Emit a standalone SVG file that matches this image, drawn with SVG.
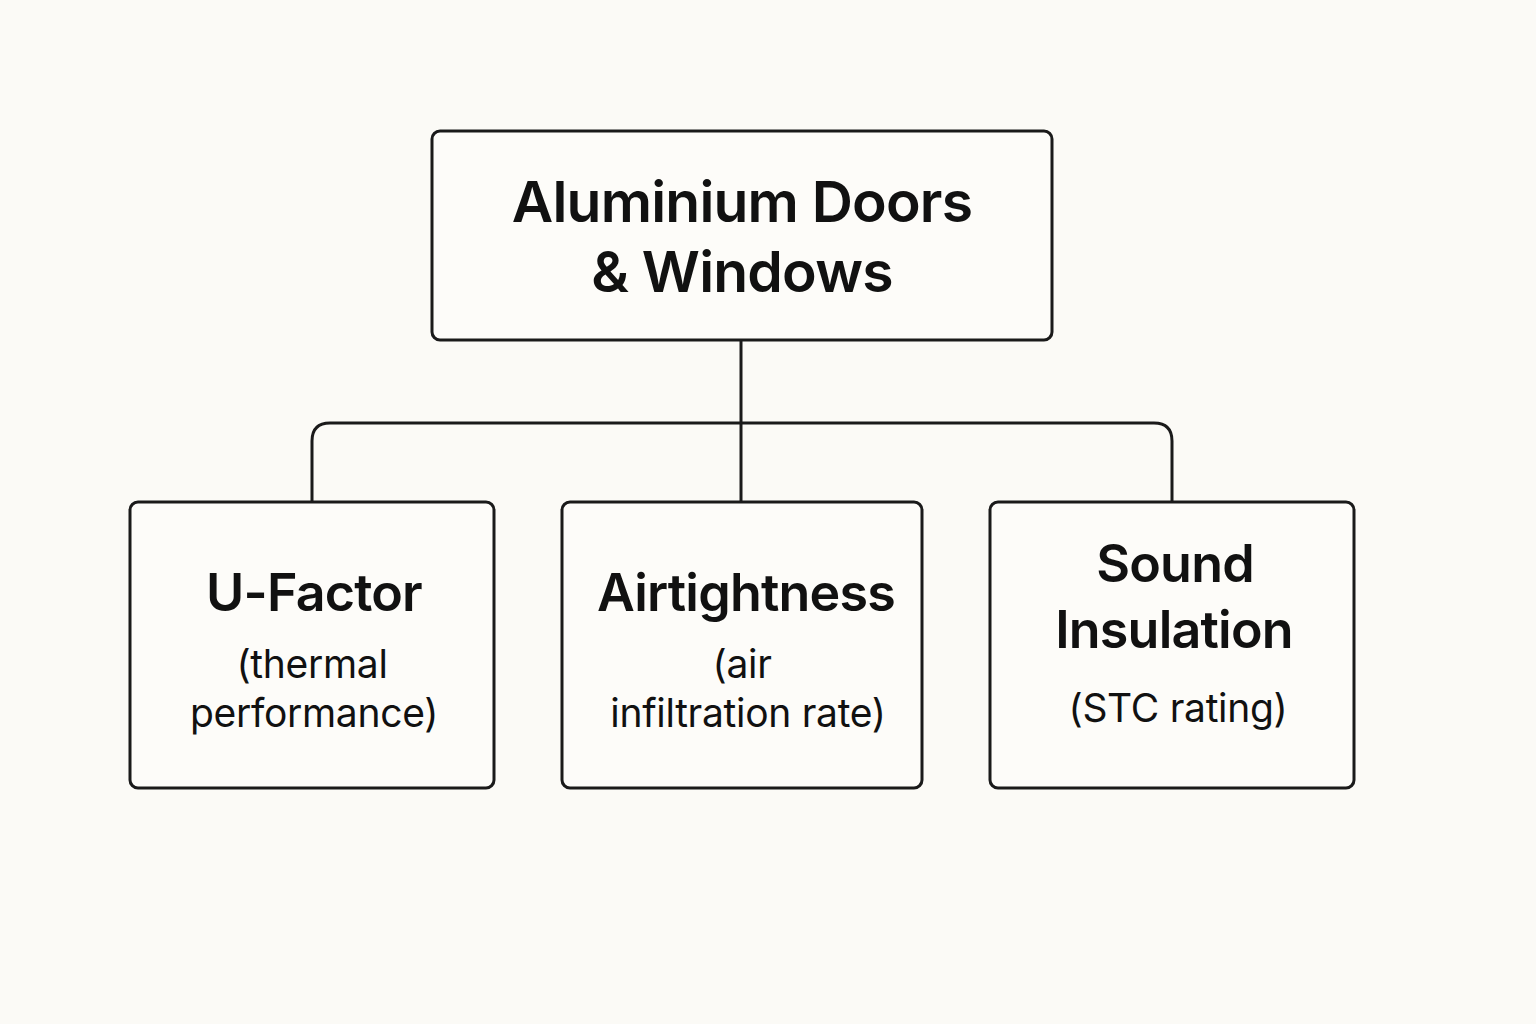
<svg xmlns="http://www.w3.org/2000/svg" width="1536" height="1024" viewBox="0 0 1536 1024">
<style>
.box{fill:#fdfcf9;stroke:#1a1a1a;stroke-width:3}
.t{font-family:Inter,"Liberation Sans",sans-serif;font-weight:600;fill:#111;text-anchor:middle;letter-spacing:-0.8px}
.s{font-family:Inter,"Liberation Sans",sans-serif;font-weight:400;fill:#111;text-anchor:middle;font-size:39px;letter-spacing:-0.3px}
.c{fill:none;stroke:#1a1a1a;stroke-width:3}
</style>
<rect width="1536" height="1024" fill="#fbfaf6"/>
<g id="connectors">
<path class="c" d="M741 340 V502"/>
<path class="c" d="M312 502 V441 Q312 423 330 423 H1154 Q1172 423 1172 441 V502"/>
</g>
<g id="root">
<rect class="box" x="432" y="131" width="620" height="209" rx="8"/>
<text class="t" x="742" y="222" font-size="57">Aluminium Doors</text>
<text class="t" x="742" y="292" font-size="57">&amp; Windows</text>
</g>
<g id="ufactor">
<rect class="box" x="130" y="502" width="364" height="286" rx="8"/>
<text class="t" x="314" y="611" font-size="52">U-Factor</text>
<text class="s" x="312" y="678">(thermal</text>
<text class="s" x="314" y="727">performance)</text>
</g>
<g id="airtightness">
<rect class="box" x="562" y="502" width="360" height="286" rx="8"/>
<text class="t" x="746" y="611" font-size="52">Airtightness</text>
<text class="s" x="742" y="678">(air</text>
<text class="s" x="748" y="727">infiltration rate)</text>
</g>
<g id="sound">
<rect class="box" x="990" y="502" width="364" height="286" rx="8"/>
<text class="t" x="1175" y="582" font-size="52">Sound</text>
<text class="t" x="1174" y="648" font-size="52">Insulation</text>
<text class="s" x="1178" y="722">(STC rating)</text>
</g>
</svg>
